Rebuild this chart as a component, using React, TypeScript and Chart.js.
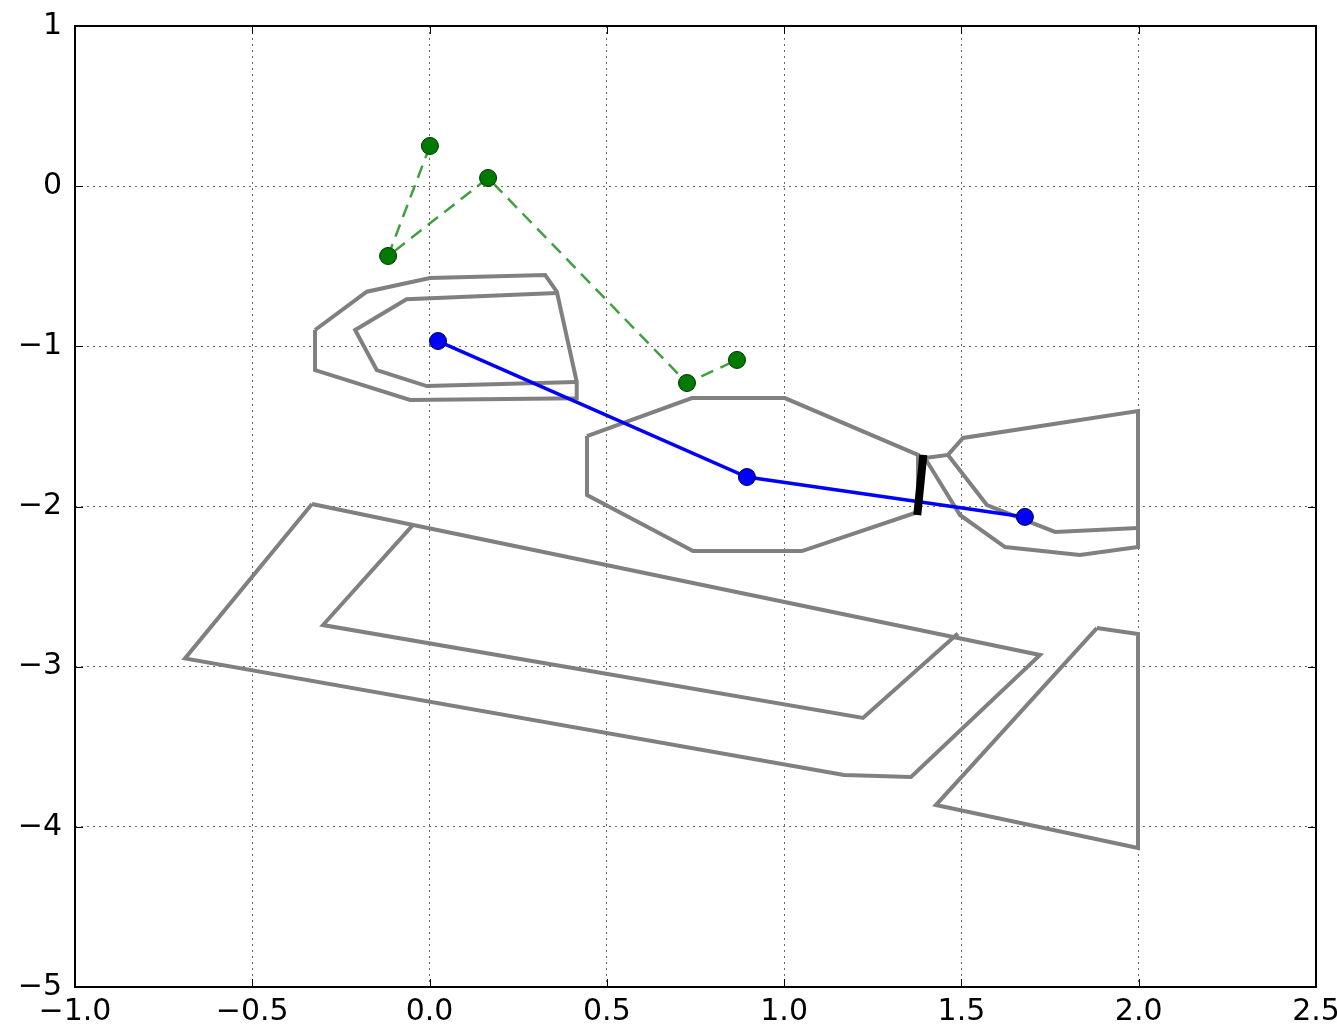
import React, { useEffect, useRef } from "react";
import { Chart, registerables } from "chart.js";

Chart.register(...registerables);

type P = { x: number; y: number };

// Axis ranges and tick values
const xTicks = [-1.0, -0.5, 0.0, 0.5, 1.0, 1.5, 2.0, 2.5];
const yTicks = [1, 0, -1, -2, -3, -4, -5];

// Gray outlines
const upperOuter: P[] = [
  { x: -0.323, y: -0.898 },
  { x: -0.177, y: -0.659 },
  { x: 0.001, y: -0.573 },
  { x: 0.326, y: -0.555 },
  { x: 0.359, y: -0.659 },
  { x: 0.415, y: -1.221 },
  { x: 0.415, y: -1.324 },
  { x: -0.055, y: -1.335 },
  { x: -0.323, y: -1.148 },
  { x: -0.323, y: -0.898 },
];
const upperInner: P[] = [
  { x: 0.359, y: -0.667 },
  { x: -0.065, y: -0.706 },
  { x: -0.21, y: -0.898 },
  { x: -0.149, y: -1.148 },
  { x: -0.008, y: -1.248 },
  { x: 0.415, y: -1.223 },
];
const octagon: P[] = [
  { x: 0.444, y: -1.56 },
  { x: 0.74, y: -1.323 },
  { x: 1.002, y: -1.323 },
  { x: 1.3775, y: -1.678 },
  { x: 1.3775, y: -2.034 },
  { x: 1.05, y: -2.278 },
  { x: 0.743, y: -2.278 },
  { x: 0.444, y: -1.928 },
  { x: 0.444, y: -1.56 },
];
const rightOuter: P[] = [
  { x: 1.397, y: -1.697 },
  { x: 1.462, y: -1.678 },
  { x: 1.5045, y: -1.572 },
  { x: 1.998, y: -1.404 },
  { x: 1.998, y: -2.253 },
  { x: 1.834, y: -2.303 },
  { x: 1.623, y: -2.253 },
  { x: 1.496, y: -2.053 },
  { x: 1.397, y: -1.697 },
];
const rightInner: P[] = [
  { x: 1.462, y: -1.678 },
  { x: 1.572, y: -1.991 },
  { x: 1.764, y: -2.159 },
  { x: 1.998, y: -2.134 },
];
const lowerOuter: P[] = [
  { x: -0.3316, y: -1.984 },
  { x: 1.7216, y: -2.927 },
  { x: 1.3578, y: -3.689 },
  { x: 1.1688, y: -3.676 },
  { x: -0.6898, y: -2.949 },
  { x: -0.3316, y: -1.984 },
];
const lowerInner: P[] = [
  { x: -0.0467, y: -2.115 },
  { x: -0.3006, y: -2.74 },
  { x: 1.2224, y: -3.32 },
  { x: 1.49, y: -2.793 },
];
const trapezoid: P[] = [
  { x: 1.882, y: -2.759 },
  { x: 1.998, y: -2.796 },
  { x: 1.998, y: -4.132 },
  { x: 1.428, y: -3.864 },
  { x: 1.882, y: -2.759 },
];

// Black bar
const bar: P[] = [
  { x: 1.3925, y: -1.678 },
  { x: 1.3755, y: -2.053 },
];

// Blue path
const bluePath: P[] = [
  { x: 0.0238, y: -0.967 },
  { x: 0.895, y: -1.816 },
  { x: 1.679, y: -2.065 },
];

// Green dashed path
const greenPath: P[] = [
  { x: 0.001, y: 0.251 },
  { x: -0.117, y: -0.436 },
  { x: 0.165, y: 0.051 },
  { x: 0.726, y: -1.229 },
  { x: 0.867, y: -1.085 },
];

const grayShapes = [
  upperOuter,
  upperInner,
  octagon,
  rightOuter,
  rightInner,
  lowerOuter,
  lowerInner,
  trapezoid,
];

const fmt = (v: number, dec: number) => {
  const s = Math.abs(v).toFixed(dec);
  return v < 0 ? "\u2212" + s : s;
};

const frameTicks = {
  id: "frameTicks",
  afterDraw(chart: any) {
    const { ctx, chartArea } = chart;
    const { left, right, top, bottom } = chartArea;
    const xs = chart.scales.x;
    const ys = chart.scales.y;
    ctx.save();
    ctx.strokeStyle = "#000";
    ctx.lineWidth = 1;
    const len = 8;
    ctx.beginPath();
    for (const v of xTicks) {
      const px = Math.round(xs.getPixelForValue(v)) + 0.5;
      ctx.moveTo(px, bottom);
      ctx.lineTo(px, bottom - len);
      ctx.moveTo(px, top);
      ctx.lineTo(px, top + len);
    }
    for (const v of yTicks) {
      const py = Math.round(ys.getPixelForValue(v)) + 0.5;
      ctx.moveTo(left, py);
      ctx.lineTo(left + len, py);
      ctx.moveTo(right, py);
      ctx.lineTo(right - len, py);
    }
    ctx.stroke();
    ctx.lineWidth = 2;
    ctx.strokeRect(left, top, right - left, bottom - top);
    ctx.restore();
  },
};

const zeroPad = (scale: any) => {
  scale.paddingLeft = 0;
  scale.paddingRight = 0;
  scale.paddingTop = 0;
  scale.paddingBottom = 0;
};

export default function App() {
  const ref = useRef<HTMLCanvasElement | null>(null);

  useEffect(() => {
    document.body.style.margin = "0";
    if (!ref.current) return;

    const datasets: any[] = [];
    datasets.push({
      data: bar,
      borderColor: "#000",
      borderWidth: 8,
      pointRadius: 0,
      showLine: true,
      borderCapStyle: "butt",
    });
    datasets.push({
      data: greenPath,
      borderColor: "rgba(0,128,0,0.75)",
      borderWidth: 2.5,
      borderDash: [13, 8],
      pointRadius: 8.5,
      pointBackgroundColor: "#007a00",
      pointBorderColor: "#003300",
      pointBorderWidth: 1,
      showLine: true,
    });
    datasets.push({
      data: bluePath,
      borderColor: "#0000ff",
      borderWidth: 3.5,
      pointRadius: 8.5,
      pointBackgroundColor: "#0000ff",
      pointBorderColor: "#000033",
      pointBorderWidth: 1,
      showLine: true,
    });
    for (const s of grayShapes) {
      datasets.push({
        data: s,
        borderColor: "#808080",
        borderWidth: 4,
        pointRadius: 0,
        showLine: true,
        borderJoinStyle: "miter",
      });
    }

    const tickFont = { family: "DejaVu Sans", size: 30 };

    const chart = new Chart(ref.current, {
      type: "scatter",
      data: { datasets },
      options: {
        animation: false,
        responsive: false,
        events: [],
        layout: {
          autoPadding: false,
          padding: { top: 26, right: 21, left: 0, bottom: 0 },
        },
        plugins: {
          legend: { display: false },
          tooltip: { enabled: false },
          title: { display: false },
        },
        elements: { line: { tension: 0, fill: false } },
        scales: {
          x: {
            type: "linear",
            min: -1,
            max: 2.5,
            afterBuildTicks: (scale: any) => {
              scale.ticks = xTicks.map((v) => ({ value: v }));
            },
            afterFit: (scale: any) => {
              scale.height = 42;
              zeroPad(scale);
            },
            ticks: {
              font: tickFont,
              color: "#000",
              padding: 7,
              maxRotation: 0,
              autoSkip: false,
              callback: (v: any) => fmt(Number(v), 1),
            },
            grid: {
              drawTicks: false,
              color: "rgba(0,0,0,0.6)",
              lineWidth: 1,
            },
            border: { display: false, dash: [2, 4] },
          },
          y: {
            type: "linear",
            min: -5,
            max: 1,
            afterBuildTicks: (scale: any) => {
              scale.ticks = yTicks.map((v) => ({ value: v }));
            },
            afterFit: (scale: any) => {
              scale.width = 75;
              zeroPad(scale);
            },
            ticks: {
              font: tickFont,
              color: "#000",
              padding: 13,
              autoSkip: false,
              callback: (v: any) => fmt(Number(v), 0),
            },
            grid: {
              drawTicks: false,
              color: "rgba(0,0,0,0.6)",
              lineWidth: 1,
            },
            border: { display: false, dash: [2, 4] },
          },
        },
      },
      plugins: [frameTicks],
    } as any);

    return () => chart.destroy();
  }, []);

  return (
    <div style={{ width: 1337, height: 1029 }}>
      <canvas ref={ref} width={1337} height={1029} style={{ display: "block" }} />
    </div>
  );
}
